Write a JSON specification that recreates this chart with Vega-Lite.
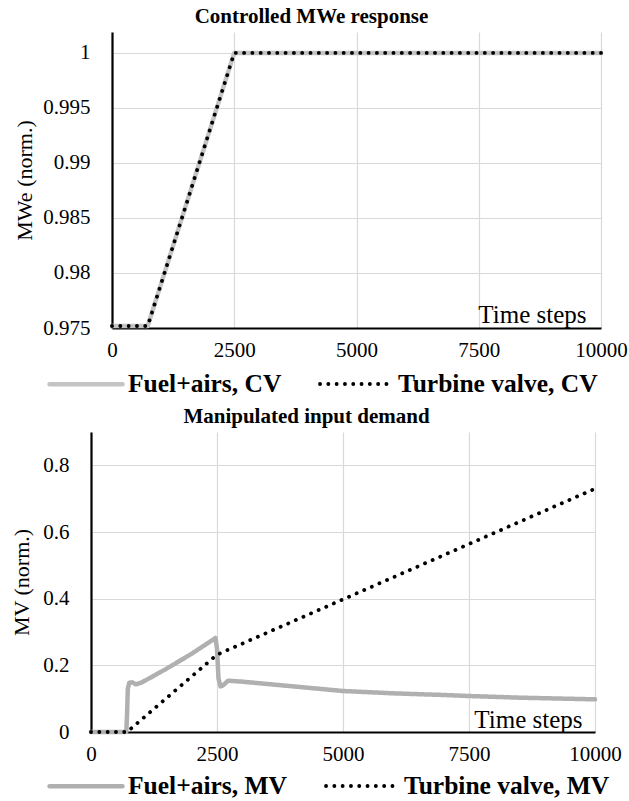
{
  "$schema": "https://vega.github.io/schema/vega-lite/v6.json",
  "padding": {"left": 10, "top": 6, "right": 0, "bottom": 0},
  "background": "white",
  "config": {
    "font": "Liberation Serif, DejaVu Serif, serif",
    "view": {"stroke": null},
    "axis": {
      "labelFont": "Liberation Serif, DejaVu Serif, serif", "labelFontSize": 21, "labelColor": "black",
      "titleFont": "Liberation Serif, DejaVu Serif, serif", "titleFontWeight": "normal", "titleColor": "black",
      "gridColor": "#d9d9d9", "gridWidth": 1.2, "ticks": false,
      "domainColor": "black", "domainWidth": 2.2
    },
    "title": {"font": "Liberation Serif, DejaVu Serif, serif", "fontSize": 21, "fontWeight": "bold", "color": "black", "frame": "group", "anchor": "middle", "offset": 5},
    "legend": {"labelFont": "Liberation Serif, DejaVu Serif, serif", "labelFontSize": 25.5, "labelFontWeight": "bold", "labelColor": "black", "labelLimit": 0, "symbolType": "stroke", "symbolSize": 5329, "labelOffset": 3, "columnPadding": 30}
  },
  "datasets": {
    "cv": [
      {"series": "Fuel+airs, CV", "t": 0, "v": 0.97518},
      {"series": "Fuel+airs, CV", "t": 730, "v": 0.97518},
      {"series": "Fuel+airs, CV", "t": 2500, "v": 1.0},
      {"series": "Fuel+airs, CV", "t": 10000, "v": 1.0},
      {"series": "Turbine valve, CV", "t": 0, "v": 0.97518},
      {"series": "Turbine valve, CV", "t": 730, "v": 0.97518},
      {"series": "Turbine valve, CV", "t": 2500, "v": 1.0},
      {"series": "Turbine valve, CV", "t": 10000, "v": 1.0}
    ],
    "mv": [
      {"series": "Fuel+airs, MV", "t": 0, "v": 0},
      {"series": "Fuel+airs, MV", "t": 700, "v": 0},
      {"series": "Fuel+airs, MV", "t": 715, "v": 0.05},
      {"series": "Fuel+airs, MV", "t": 730, "v": 0.13},
      {"series": "Fuel+airs, MV", "t": 760, "v": 0.148},
      {"series": "Fuel+airs, MV", "t": 820, "v": 0.149},
      {"series": "Fuel+airs, MV", "t": 890, "v": 0.143},
      {"series": "Fuel+airs, MV", "t": 1000, "v": 0.148},
      {"series": "Fuel+airs, MV", "t": 1500, "v": 0.19},
      {"series": "Fuel+airs, MV", "t": 2000, "v": 0.235},
      {"series": "Fuel+airs, MV", "t": 2470, "v": 0.282},
      {"series": "Fuel+airs, MV", "t": 2500, "v": 0.25},
      {"series": "Fuel+airs, MV", "t": 2530, "v": 0.16},
      {"series": "Fuel+airs, MV", "t": 2570, "v": 0.137},
      {"series": "Fuel+airs, MV", "t": 2620, "v": 0.14},
      {"series": "Fuel+airs, MV", "t": 2720, "v": 0.154},
      {"series": "Fuel+airs, MV", "t": 3000, "v": 0.151},
      {"series": "Fuel+airs, MV", "t": 3500, "v": 0.144},
      {"series": "Fuel+airs, MV", "t": 4000, "v": 0.137},
      {"series": "Fuel+airs, MV", "t": 4500, "v": 0.13},
      {"series": "Fuel+airs, MV", "t": 5000, "v": 0.123},
      {"series": "Fuel+airs, MV", "t": 6000, "v": 0.116},
      {"series": "Fuel+airs, MV", "t": 7000, "v": 0.111},
      {"series": "Fuel+airs, MV", "t": 7500, "v": 0.108},
      {"series": "Fuel+airs, MV", "t": 8500, "v": 0.103},
      {"series": "Fuel+airs, MV", "t": 10000, "v": 0.098},
      {"series": "Turbine valve, MV", "t": 0, "v": 0},
      {"series": "Turbine valve, MV", "t": 714, "v": 0},
      {"series": "Turbine valve, MV", "t": 2500, "v": 0.232},
      {"series": "Turbine valve, MV", "t": 10000, "v": 0.73}
    ]
  },
  "columns": 1,
  "align": "none",
  "spacing": 8,
  "concat": [
    {
      "title": {"text": "Controlled MWe response", "dx": -45},
      "width": 489,
      "height": 296,
      "data": {"name": "cv"},
      "mark": {"type": "line", "strokeCap": "round", "strokeJoin": "round"},
      "encoding": {
        "x": {"field": "t", "type": "quantitative",
              "scale": {"domain": [0, 10000], "nice": false},
              "axis": {"values": [0, 2500, 5000, 7500, 10000], "format": "d", "labelPadding": 11, "labelFlush": false,
                       "title": "Time steps", "titleFontSize": 25, "titleAlign": "right", "titleAnchor": null, "titleX": 474, "titleY": -6, "titleBaseline": "alphabetic"}},
        "y": {"field": "v", "type": "quantitative",
              "scale": {"domain": [0.975, 1.0019], "nice": false, "zero": false},
              "axis": {"values": [0.975, 0.98, 0.985, 0.99, 0.995, 1], "format": "~g", "title": "MWe (norm.)", "titleFontSize": 22, "labelPadding": 22, "titlePadding": 6}},
        "color": {"field": "series", "type": "nominal",
                  "scale": {"domain": ["Fuel+airs, CV", "Turbine valve, CV"], "range": ["#c4c4c4", "#000000"]},
                  "legend": {"title": null, "orient": "none", "direction": "horizontal", "legendX": -65, "legendY": 313,
                             "encode": {"symbols": {"update": {"strokeCap": {"value": "round"}}}}}},
        "strokeDash": {"field": "series", "type": "nominal",
                  "scale": {"domain": ["Fuel+airs, CV", "Turbine valve, CV"], "range": [[1, 0], [0.1, 8.2]]}},
        "strokeWidth": {"field": "series", "type": "nominal",
                  "scale": {"domain": ["Fuel+airs, CV", "Turbine valve, CV"], "range": [4.5, 3.8]}}
      }
    },
    {
      "title": {"text": "Manipulated input demand", "dx": -47},
      "width": 483,
      "height": 300,
      "data": {"name": "mv"},
      "mark": {"type": "line", "strokeCap": "round", "strokeJoin": "round"},
      "encoding": {
        "x": {"field": "t", "type": "quantitative",
              "scale": {"domain": [0, 10000], "nice": false, "range": [-21, 483]},
              "axis": {"values": [0, 2500, 5000, 7500, 10000], "format": "d", "labelPadding": 11, "labelFlush": false,
                       "title": "Time steps", "titleFontSize": 25, "titleAlign": "right", "titleAnchor": null, "titleX": 470, "titleY": -5, "titleBaseline": "alphabetic"}},
        "y": {"field": "v", "type": "quantitative",
              "scale": {"domain": [0, 0.9], "nice": false},
              "axis": {"values": [0, 0.2, 0.4, 0.6, 0.8], "format": "~g", "offset": 21, "title": "MV (norm.)", "titleFontSize": 22, "labelPadding": 22, "titlePadding": 9}},
        "color": {"field": "series", "type": "nominal",
                  "scale": {"domain": ["Fuel+airs, MV", "Turbine valve, MV"], "range": ["#b0b0b0", "#000000"]},
                  "legend": {"title": null, "orient": "none", "direction": "horizontal", "legendX": -65, "legendY": 315,
                             "encode": {"symbols": {"update": {"strokeCap": {"value": "round"}}}}}},
        "strokeDash": {"field": "series", "type": "nominal",
                  "scale": {"domain": ["Fuel+airs, MV", "Turbine valve, MV"], "range": [[1, 0], [0.1, 8.2]]}},
        "strokeWidth": {"field": "series", "type": "nominal",
                  "scale": {"domain": ["Fuel+airs, MV", "Turbine valve, MV"], "range": [4.5, 3.8]}}
      }
    }
  ],
  "resolve": {"scale": {"color": "independent", "strokeDash": "independent", "strokeWidth": "independent"}, "legend": {"color": "independent", "strokeDash": "independent", "strokeWidth": "independent"}}
}
